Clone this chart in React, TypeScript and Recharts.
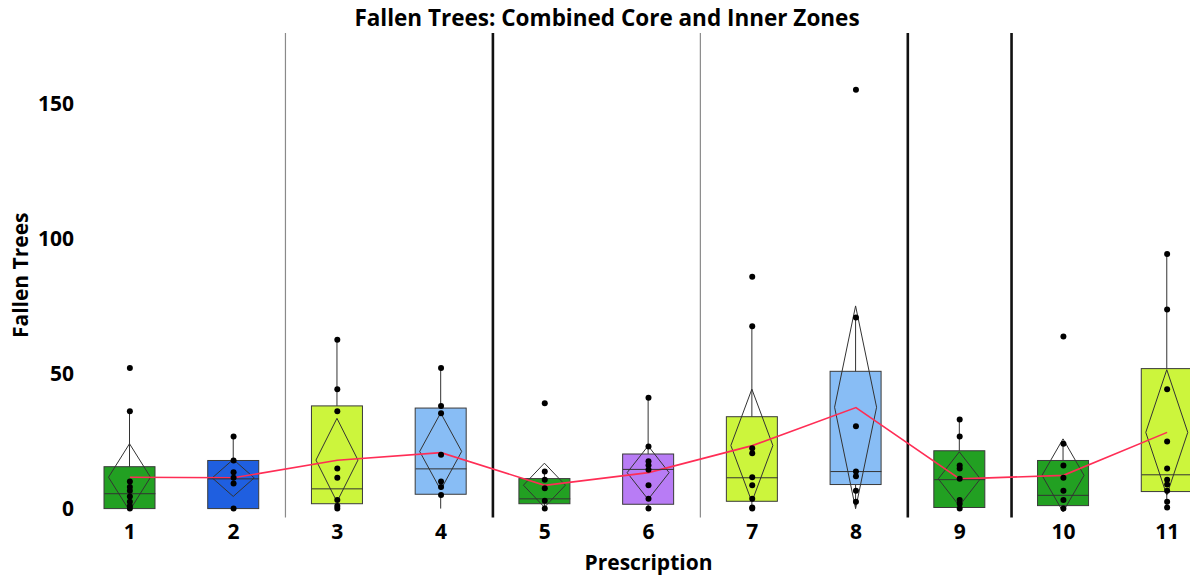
import { Bar, ComposedChart, Line, ReferenceLine, Scatter, XAxis, YAxis } from 'recharts';

const prescriptions = [1, 2, 3, 4, 5, 6, 7, 8, 9, 10, 11];
const boxColors = ['#22a022', '#1f5fe0', '#ccf53c', '#88bdf5', '#22a022', '#b87cf5', '#ccf53c', '#88bdf5', '#22a022', '#22a022', '#ccf53c'];
const q1 = [0, 0, 1.8, 5.3, 1.8, 1.6, 2.7, 8.9, 0.4, 1.1, 6.3];
const medians = [5.5, 11, 7.3, 14.7, 3.6, 14.5, 11.4, 13.7, 10.7, 4.9, 12.5];
const q3 = [15.5, 17.8, 38, 37.2, 11.1, 20.2, 34, 50.8, 21.4, 17.8, 51.8];
const whiskerLow = [0, 0, 0, 0, 0, 0, 0, 0, 0, 0, 0.4];
const whiskerHigh = [36, 26.7, 62.5, 52, 13.4, 41, 67.5, 70.7, 33, 24, 94.2];
const means = [11.6, 11.4, 17.9, 20.7, 8.6, 13.3, 23.3, 37.4, 11, 12.3, 28.2];
const diamondLow = [-0.8, 4.5, 2.5, 6.9, 0.5, 3.4, 2.5, 0, 1, -1.2, 5];
const diamondHigh = [24, 18.2, 33.4, 35.4, 16.8, 23.2, 44.2, 75, 21, 25.8, 51.4];
const observations = [
  [52, 36, 10, 8, 6.6, 4.5, 2.5, 1, 0],
  [26.7, 17.8, 13.4, 11.4, 9.3, 0],
  [62.5, 44.2, 36, 14.8, 11.4, 3.2, 1, 0],
  [52, 38, 35.3, 19.9, 10, 8, 5],
  [39, 13.7, 10.7, 7.5, 2.9, 0],
  [41, 23, 17.5, 16, 14.4, 8.6, 3.6, 0],
  [85.8, 67.5, 22.3, 20.5, 11.6, 8.6, 3.6, 0.4, 0],
  [155, 70.7, 30.5, 13.7, 12, 6.6, 2.5],
  [33, 26.7, 15.9, 14.8, 11, 3.2, 1.8, 0],
  [63.7, 24, 15.9, 11.4, 6.6, 3.2, 0],
  [94.2, 73.7, 44.2, 24.8, 14.8, 10.7, 8.9, 6.6, 2.5, 0.4],
];
const yTicks = [0, 50, 100, 150];
const thinDividers = [2.5, 6.5];
const thickDividers = [4.5, 8.5, 9.5];

const rows = prescriptions.map((x, i) => ({
  x,
  color: boxColors[i],
  box: [q1[i], q3[i]],
  whisker: [whiskerLow[i], whiskerHigh[i]],
  diamond: [diamondLow[i], diamondHigh[i]],
  mean: means[i],
}));
const medianRows = prescriptions.map((x, i) => ({ x, y: medians[i] }));
const pointRows = prescriptions.flatMap((x, i) => observations[i].map((y) => ({ x, y })));

const font = '"Open Sans", sans-serif';
const BOX_W = 51;
const AXIS_FS = 21;

const WhiskerShape = (p: any) => (
  <line x1={p.x + p.width / 2} x2={p.x + p.width / 2} y1={p.y} y2={p.y + p.height} stroke="#333" strokeWidth={1} />
);

const BoxShape = (p: any) => (
  <rect x={p.x} y={p.y} width={p.width} height={p.height} fill={p.payload.color} stroke="#3a3a3a" strokeWidth={1} />
);

const DiamondShape = (p: any) => {
  const cx = p.x + p.width / 2;
  const half = p.width / 2 - 4.5;
  const mid = p.y + p.height / 2;
  return (
    <polygon
      points={`${cx},${p.y} ${cx + half},${mid} ${cx},${p.y + p.height} ${cx - half},${mid}`}
      fill="none"
      stroke="#333"
      strokeWidth={1}
    />
  );
};

const MedianShape = (p: any) => (
  <line x1={p.cx - BOX_W / 2} x2={p.cx + BOX_W / 2} y1={p.cy} y2={p.cy} stroke="#333" strokeWidth={1} />
);

const DotShape = (p: any) => <circle cx={p.cx} cy={p.cy} r={3} fill="#000" />;

const YTitle = ({ viewBox }: any) => (
  <text
    x={20}
    y={viewBox.y + viewBox.height / 2}
    transform={`rotate(-90, 20, ${viewBox.y + viewBox.height / 2})`}
    textAnchor="middle"
    dominantBaseline="central"
    fontFamily={font}
    fontWeight={700}
    fontSize={AXIS_FS}
    fill="#000"
  >
    Fallen Trees
  </text>
);

export default function App() {
  return (
    <div style={{ position: 'absolute', left: 0, top: 0, width: 1190, height: 579, overflow: 'hidden', background: '#fff' }}>
      <div
        style={{
          position: 'absolute',
          left: 257,
          top: 4,
          width: 700,
          textAlign: 'center',
          fontFamily: font,
          fontWeight: 700,
          fontSize: 22.5,
          lineHeight: '28px',
          color: '#000',
        }}
      >
        Fallen Trees: Combined Core and Inner Zones
      </div>
      <ComposedChart
        width={1230}
        height={579}
        data={rows}
        margin={{ top: 33, right: 11, bottom: 0, left: 0 }}
        barSize={BOX_W}
        barGap={-BOX_W}
      >
        <XAxis
          type="number"
          dataKey="x"
          domain={[0.5, 11.5]}
          allowDataOverflow
          ticks={prescriptions}
          interval={0}
          height={61.5}
          axisLine={false}
          tickLine={false}
          tickSize={0}
          tickMargin={7}
          tick={{ fill: '#000', fontFamily: font, fontWeight: 700, fontSize: AXIS_FS }}
          label={{ value: 'Prescription', position: 'insideBottom', offset: 9, fill: '#000', fontFamily: font, fontWeight: 700, fontSize: AXIS_FS }}
        />
        <YAxis
          type="number"
          domain={[-3.3, 176]}
          allowDataOverflow
          ticks={yTicks}
          width={78}
          axisLine={false}
          tickLine={false}
          tickSize={0}
          tickMargin={4}
          tick={{ fill: '#000', fontFamily: font, fontWeight: 700, fontSize: AXIS_FS }}
          label={<YTitle />}
        />
        {thinDividers.map((d) => (
          <ReferenceLine key={`thin-${d}`} x={d} stroke="#8a8a8a" strokeWidth={1.2} />
        ))}
        {thickDividers.map((d) => (
          <ReferenceLine key={`thick-${d}`} x={d} stroke="#111" strokeWidth={2.6} />
        ))}
        <Bar dataKey="whisker" barSize={BOX_W} shape={WhiskerShape} isAnimationActive={false} />
        <Bar dataKey="box" barSize={BOX_W} shape={BoxShape} isAnimationActive={false} />
        <Bar dataKey="diamond" barSize={BOX_W} shape={DiamondShape} isAnimationActive={false} />
        <Scatter data={medianRows} dataKey="y" shape={MedianShape} isAnimationActive={false} />
        <Line dataKey="mean" type="linear" stroke="#ff2d55" strokeWidth={1.6} dot={false} isAnimationActive={false} />
        <Scatter data={pointRows} dataKey="y" shape={DotShape} isAnimationActive={false} />
      </ComposedChart>
    </div>
  );
}
